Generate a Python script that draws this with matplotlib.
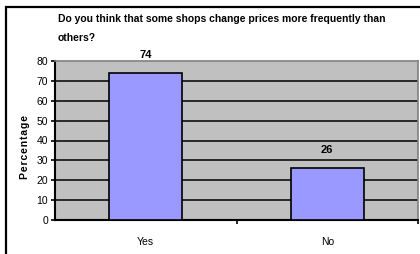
import matplotlib
matplotlib.use("Agg")
import matplotlib.pyplot as plt
from matplotlib.patches import Rectangle

categorias = ["Yes", "No"]
valores = [74, 26]
ticks_y = [0, 10, 20, 30, 40, 50, 60, 70, 80]
titulo = "Do you think that some shops change prices more frequently than\nothers?"
rotulo_y = "Percentage"

fonte = ["Liberation Sans Narrow", "Liberation Sans", "DejaVu Sans"]
plt.rcParams["font.family"] = fonte

fig = plt.figure(figsize=(4.2, 2.54), dpi=100)
ax = fig.add_axes([55 / 420, 34 / 254, 363 / 420, 159 / 254])

# borda externa do gráfico
fig.patches.append(Rectangle((6 / 420, -0.1), 1.2, (254 - 7) / 254 + 0.1,
                             transform=fig.transFigure, fill=False,
                             edgecolor="black", linewidth=1.6))

ax.set_facecolor("#c0c0c0")
x = range(len(categorias))
ax.bar(x, valores, width=0.4, color="#9999ff", edgecolor="black", linewidth=1.2, zorder=3)
for xi, v in zip(x, valores):
    ax.text(xi, v + 6.5, str(v), ha="center", va="bottom", fontsize=8, fontweight="bold",
            clip_on=False)

ax.set_xlim(-0.5, 1.5)
ax.set_ylim(0, 80)
ax.set_yticks(ticks_y)
ax.set_yticklabels([str(t) for t in ticks_y], fontsize=7.5)
ax.set_xticks([0.5, 1.5], minor=False)
ax.set_xticklabels([])
ax.set_xticks(list(x), minor=True)
ax.set_xticklabels(categorias, minor=True, fontsize=7.5)
ax.tick_params(axis="x", which="minor", length=0, pad=12)
ax.tick_params(axis="x", which="major", length=3, width=1.2, direction="out")
ax.tick_params(axis="y", length=3, width=1.2, direction="out", pad=2)

for t in ticks_y[1:-1]:
    ax.axhline(t, color="black", linewidth=1.1, zorder=1)

for lado in ["top", "right"]:
    ax.spines[lado].set_color("#808080")
    ax.spines[lado].set_linewidth(1.2)
for lado in ["left", "bottom"]:
    ax.spines[lado].set_color("black")
    ax.spines[lado].set_linewidth(1.5)

# espaçamento entre letras como no original (hair space)
ax.set_ylabel("\u200a".join(rotulo_y), fontsize=7.5, fontweight="bold", labelpad=2,
              family=fonte)
ax.yaxis.set_label_coords(-0.068, 0.46)
fig.text(58 / 420, 1 - 14 / 254, titulo, ha="left", va="top", fontsize=7.5,
         fontweight="bold", linespacing=2.1)

fig.savefig("out.png", dpi=100)
